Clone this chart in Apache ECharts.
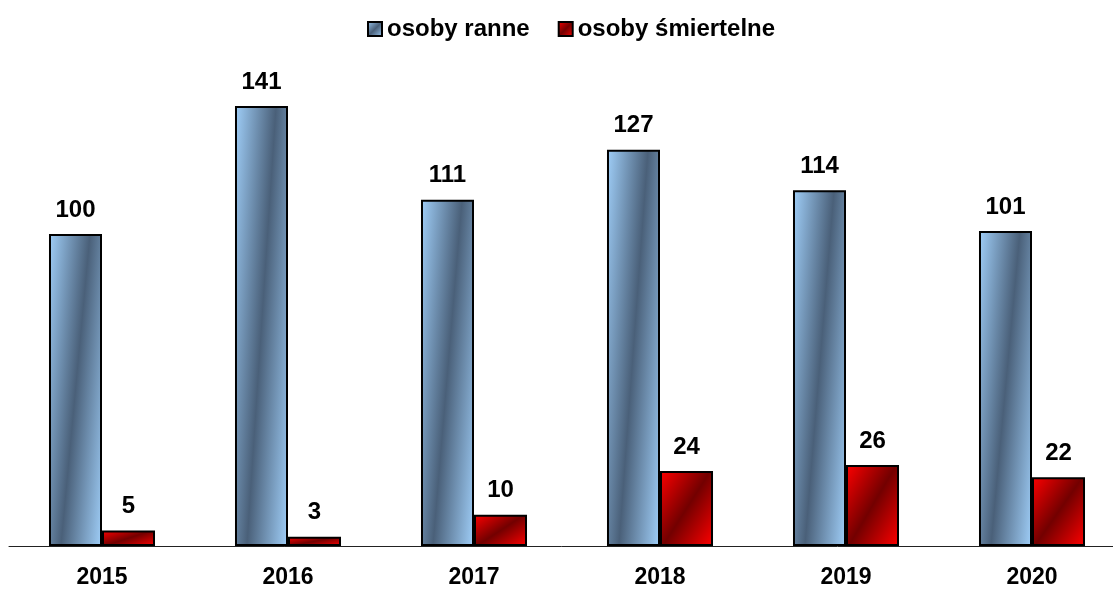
<!DOCTYPE html>
<html>
<head>
<meta charset="utf-8">
<script src="https://cdn.jsdelivr.net/npm/echarts@6/dist/echarts.min.js"></script>
<style>
  html, body { margin: 0; padding: 0; background: #fff; }
  #main { width: 1113px; height: 589px; }
</style>
</head>
<body>
<div id="main"></div>
<script>
  // lata i wartości
  const years = ['2015', '2016', '2017', '2018', '2019', '2020'];
  const injured = [100, 141, 111, 127, 114, 101]; // osoby ranne
  const killed = [5, 3, 10, 24, 26, 22];          // osoby śmiertelne

  const FONT = 'Liberation Sans, Arial, sans-serif';

  // ukośny gradient jasny-ciemny-jasny (jak w Excelu), s = przesunięcie pasa
  function diag(w, h, s, light, dark) {
    const d = h * h + s * s * w * w;
    const x2 = h * h * (1 + s) / d;
    const y2 = s * w * w * (1 + s) / d;
    return new echarts.graphic.LinearGradient(0, 0, x2, y2, [
      { offset: 0, color: light },
      { offset: 0.5, color: dark },
      { offset: 1, color: light }
    ]);
  }

  const BLUE = ['#a0cff9', '#4a6079'];
  const RED = ['#ff0000', '#730000'];

  const myChart = echarts.init(document.getElementById('main'));

  const labelStyle = {
    show: true,
    position: 'top',
    distance: 12,
    color: '#000',
    fontSize: 24,
    fontWeight: 'bold',
    fontFamily: FONT
  };

  myChart.setOption({
    animation: false,
    legend: {
      top: 17,
      left: 367,
      padding: 0,
      itemWidth: 14,
      itemHeight: 14,
      itemGap: 28,
      icon: 'rect',
      textStyle: {
        fontSize: 24,
        fontWeight: 'bold',
        color: '#000',
        fontFamily: FONT
      }
    },
    grid: {
      top: 78,
      left: 9,
      right: -12,
      bottom: 43,
      outerBoundsMode: 'none'
    },
    xAxis: {
      type: 'category',
      data: years,
      axisLine: { lineStyle: { color: '#222', width: 1 } },
      axisTick: {
        length: 8,
        lineStyle: { color: '#222' },
        interval: 0
      },
      axisLabel: {
        margin: 20,
        fontSize: 23,
        fontWeight: 'bold',
        color: '#000',
        fontFamily: FONT
      }
    },
    yAxis: {
      type: 'value',
      min: 0,
      max: 150,
      show: false,
      splitLine: { show: false }
    },
    series: [
      {
        name: 'osoby ranne',
        type: 'bar',
        barWidth: '28.5%',
        barGap: '0%',
        itemStyle: { color: diag(14, 14, 1, BLUE[0], BLUE[1]), borderColor: '#000', borderWidth: 2 },
        label: labelStyle,
        data: injured
      },
      {
        name: 'osoby śmiertelne',
        type: 'bar',
        barWidth: '28.5%',
        itemStyle: { color: diag(14, 14, 1, RED[0], RED[1]), borderColor: '#000', borderWidth: 2 },
        label: labelStyle,
        data: killed
      }
    ]
  });

  // gradient liczony wg rzeczywistego rozmiaru słupka
  const catW = myChart.convertToPixel({ xAxisIndex: 0 }, 1) - myChart.convertToPixel({ xAxisIndex: 0 }, 0);
  const barW = catW * 0.285;
  const base = myChart.convertToPixel({ yAxisIndex: 0 }, 0);
  function withGrad(arr, s, pal) {
    return arr.map(function (v) {
      const h = Math.max(base - myChart.convertToPixel({ yAxisIndex: 0 }, v), 1);
      return { value: v, itemStyle: { color: diag(barW, h, s, pal[0], pal[1]) } };
    });
  }
  myChart.setOption({
    series: [
      { data: withGrad(injured, 0.55, BLUE) },
      { data: withGrad(killed, 0.9, RED) }
    ]
  });
</script>
</body>
</html>
